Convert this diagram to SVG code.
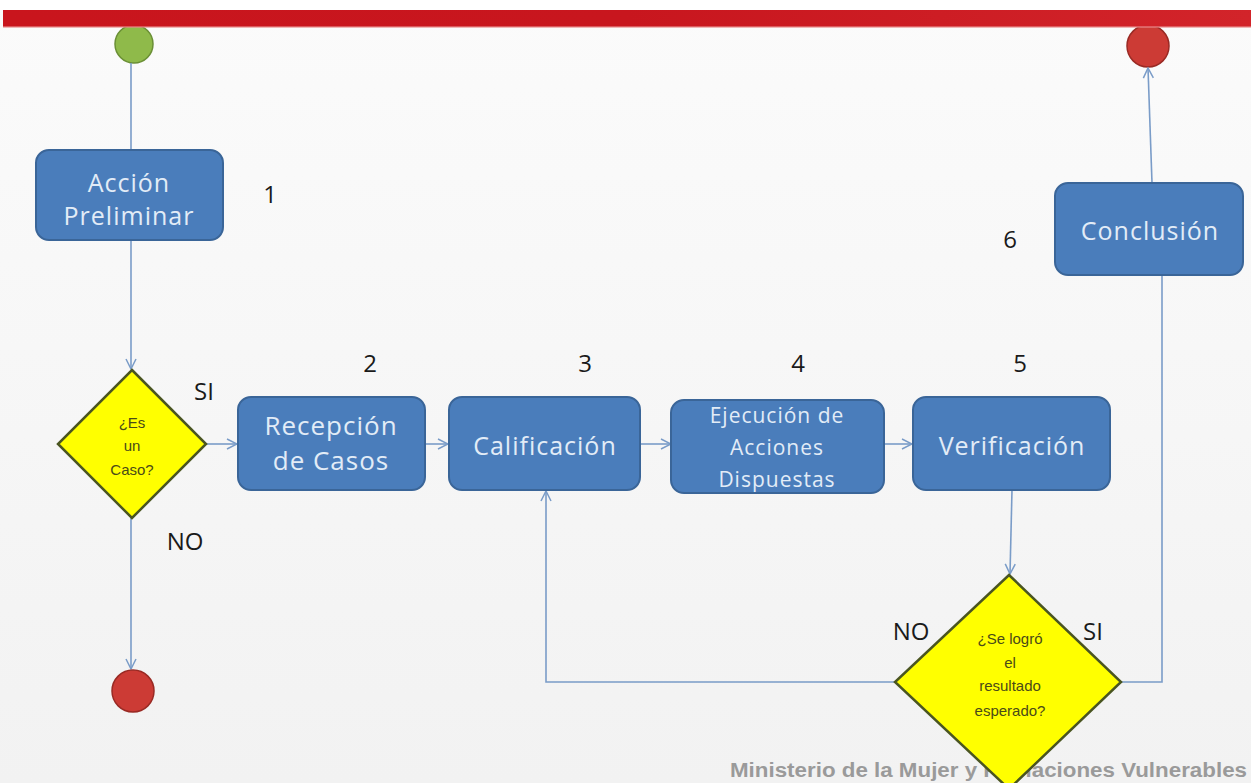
<svg xmlns="http://www.w3.org/2000/svg" width="1251" height="783" viewBox="0 0 1251 783">
<defs>
<linearGradient id="bg" x1="0" y1="0" x2="0" y2="1">
<stop offset="0" stop-color="#fbfbfb"/>
<stop offset="1" stop-color="#f2f2f2"/>
</linearGradient>
<linearGradient id="bar" x1="0" y1="0" x2="1" y2="0">
<stop offset="0" stop-color="#c9151d"/>
<stop offset="0.5" stop-color="#c8161e"/>
<stop offset="1" stop-color="#d2242a"/>
</linearGradient>
<marker id="arr" viewBox="0 0 12 12" refX="11" refY="6" markerWidth="12" markerHeight="12" markerUnits="userSpaceOnUse" orient="auto">
<path d="M1,1 L11,6 L1,11" fill="none" stroke="#7a9cc8" stroke-width="1.5"/>
</marker>
<style>
.box{fill:#4a7dbb;stroke:#3a6598;stroke-width:2}
.bt{font-family:"Open Sans","Liberation Sans",sans-serif;fill:#e2ecf7;text-anchor:middle;font-size:25px;letter-spacing:1px}
.rt{font-family:"Open Sans","Liberation Sans",sans-serif;fill:#e2ecf7;text-anchor:middle;font-size:26px;letter-spacing:1px}
.et{font-family:"Open Sans","Liberation Sans",sans-serif;fill:#e2ecf7;text-anchor:middle;font-size:21px;letter-spacing:1px}
.dia{fill:#ffff00;stroke:#4a5520;stroke-width:2.5}
.dt{font-family:"Liberation Sans",Arial,sans-serif;fill:#4a4a18;text-anchor:middle;font-size:15px}
.lbl{font-family:"Open Sans","Liberation Sans",sans-serif;fill:#1a1a1a;text-anchor:middle;font-size:24px}
.con{fill:none;stroke:#7a9cc8;stroke-width:1.6}
.end{fill:#cc3b35;stroke:#9a2a24;stroke-width:1.5}
.start{fill:#8fba4a;stroke:#6a8f35;stroke-width:1.5}
</style>
</defs>
<rect x="0" y="0" width="1251" height="783" fill="url(#bg)"/>
<rect x="0" y="0" width="1251" height="10" fill="#ffffff"/>

<g id="start">
<circle cx="134" cy="44" r="19" class="start"/>
</g>
<g id="end-top">
<circle cx="1148" cy="46" r="21" class="end"/>
</g>

<rect x="3" y="10" width="1248" height="17" fill="url(#bar)"/>
<rect x="3" y="26" width="1248" height="2" fill="#e88a8a" opacity="0.6"/>

<text x="1247" y="777" font-family="Liberation Sans,Arial,sans-serif" font-weight="bold" font-size="20" fill="#9a9a9a" text-anchor="end" textLength="517" lengthAdjust="spacingAndGlyphs">Ministerio de la Mujer y Poblaciones Vulnerables</text>

<g id="connectors">
<line x1="131" y1="63" x2="131" y2="150" class="con"/>
<line x1="131" y1="240" x2="131" y2="369" class="con" marker-end="url(#arr)"/>
<line x1="131" y1="518" x2="131" y2="669" class="con" marker-end="url(#arr)"/>
<line x1="206" y1="444" x2="237" y2="444" class="con" marker-end="url(#arr)"/>
<line x1="425" y1="444" x2="448" y2="444" class="con" marker-end="url(#arr)"/>
<line x1="640" y1="444" x2="671" y2="444" class="con" marker-end="url(#arr)"/>
<line x1="884" y1="444" x2="912" y2="444" class="con" marker-end="url(#arr)"/>
<line x1="1012" y1="490" x2="1010" y2="574" class="con" marker-end="url(#arr)"/>
<polyline points="895,682 546,682 546,491" class="con" marker-end="url(#arr)"/>
<polyline points="1121,682 1162,682 1162,275" class="con"/>
<line x1="1152" y1="183" x2="1148" y2="68" class="con" marker-end="url(#arr)"/>
</g>

<g id="end-bottom">
<circle cx="133" cy="691" r="21" class="end"/>
</g>

<g id="accion">
<rect x="36" y="150" width="187" height="90" rx="13" class="box"/>
<text x="129" y="192" class="bt">Acción</text>
<text x="129" y="225" class="bt">Preliminar</text>
</g>
<text x="270" y="203" class="lbl">1</text>

<g id="esCaso">
<polygon points="132,370 206,444 132,518 58,444" class="dia"/>
<text x="132" y="428" class="dt">¿Es</text>
<text x="132" y="451" class="dt">un</text>
<text x="132" y="475" class="dt">Caso?</text>
</g>
<text x="204" y="400" class="lbl">SI</text>
<text x="185" y="550" class="lbl">NO</text>

<g id="recepcion">
<rect x="238" y="397" width="187" height="93" rx="13" class="box"/>
<text x="331" y="435" class="rt">Recepción</text>
<text x="331" y="470" class="rt">de Casos</text>
</g>
<text x="370" y="372" class="lbl">2</text>

<g id="calificacion">
<rect x="449" y="397" width="191" height="93" rx="13" class="box"/>
<text x="545" y="455" class="bt">Calificación</text>
</g>
<text x="585" y="372" class="lbl">3</text>

<g id="ejecucion">
<rect x="671" y="400" width="213" height="93" rx="13" class="box"/>
<text x="777" y="423" class="et">Ejecución de</text>
<text x="777" y="455" class="et">Acciones</text>
<text x="777" y="487" class="et">Dispuestas</text>
</g>
<text x="798" y="372" class="lbl">4</text>

<g id="verificacion">
<rect x="913" y="397" width="197" height="93" rx="13" class="box"/>
<text x="1012" y="455" class="bt">Verificación</text>
</g>
<text x="1020" y="372" class="lbl">5</text>

<g id="conclusion">
<rect x="1055" y="183" width="188" height="92" rx="13" class="box"/>
<text x="1150" y="240" class="bt">Conclusión</text>
</g>
<text x="1010" y="248" class="lbl">6</text>

<g id="logro">
<polygon points="1009,575 1121,682 1009,789 895,682" class="dia"/>
<text x="1010" y="644" class="dt">¿Se logró</text>
<text x="1010" y="668" class="dt">el</text>
<text x="1010" y="691" class="dt">resultado</text>
<text x="1010" y="716" class="dt">esperado?</text>
</g>
<text x="911" y="640" class="lbl">NO</text>
<text x="1093" y="640" class="lbl">SI</text>
</svg>
